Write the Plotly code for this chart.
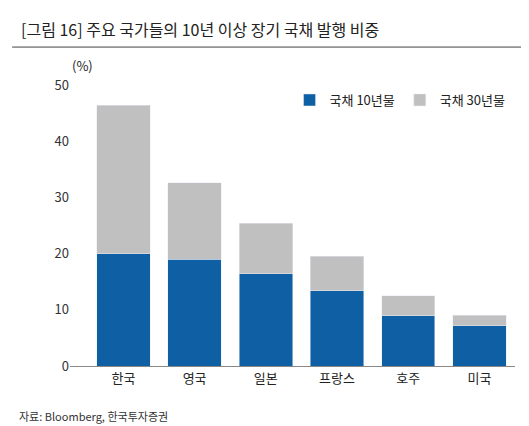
import plotly.graph_objects as go

categories = ["한국", "영국", "일본", "프랑스", "호주", "미국"]
bond10 = [20.0, 19.0, 16.4, 13.4, 8.9, 7.2]
bond30 = [26.4, 13.6, 9.0, 6.1, 3.6, 1.8]
yticks = [0, 10, 20, 30, 40, 50]

font = "Noto Sans CJK KR"
fig = go.Figure()
fig.add_bar(x=categories, y=bond10, name="국채 10년물", marker_color="#0E5FA3", width=0.75)
fig.add_bar(x=categories, y=bond30, name="국채 30년물", marker_color="#C0C0C0", width=0.75)
fig.update_layout(
    barmode="stack", width=529, height=426, plot_bgcolor="white", paper_bgcolor="white",
    margin=dict(l=62, r=22, t=77, b=68),
    font=dict(family=font, size=13, color="#222"),
    legend=dict(orientation="h", traceorder="normal", x=0.99, xanchor="right", y=1.0, yanchor="top",
                font=dict(size=13), bgcolor="rgba(0,0,0,0)"),
    xaxis=dict(range=[-0.75, 5.5], showline=True, linecolor="#888", ticks="", tickfont=dict(size=13)),
    yaxis=dict(range=[0, 50], tickvals=yticks, showgrid=False, showline=False,
               ticks="", tickfont=dict(size=13, color="#333")),
    annotations=[
        dict(text="[그림 16] 주요 국가들의 10년 이상 장기 국채 발행 비중", xref="paper", yref="paper",
             x=-0.115, y=1.20, xanchor="left", yanchor="middle", showarrow=False,
             font=dict(size=16, color="#222")),
        dict(text="(%)", xref="paper", yref="paper", x=0.0, y=1.07, xanchor="left",
             yanchor="middle", showarrow=False, font=dict(size=13)),
        dict(text="자료: Bloomberg, 한국투자증권", xref="paper", yref="paper", x=-0.12, y=-0.178,
             xanchor="left", yanchor="middle", showarrow=False, font=dict(size=11, color="#333")),
    ],
    shapes=[dict(type="line", xref="paper", yref="paper", x0=-0.13, x1=1.04, y0=1.135, y1=1.135,
                 line=dict(color="#444", width=1))],
)
fig.write_html("out.html")
